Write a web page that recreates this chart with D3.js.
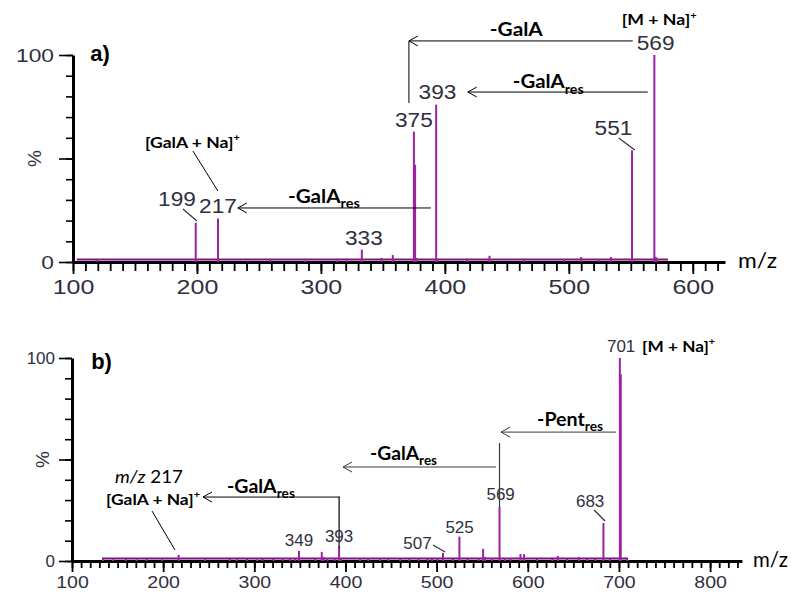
<!DOCTYPE html>
<html>
<head>
<meta charset="utf-8">
<script src="https://cdn.jsdelivr.net/npm/d3@7"></script>
<style>
  body { margin: 0; background: #fff; }
  svg { display: block; }
</style>
</head>
<body>
<svg id="chart" width="791" height="592"></svg>
<script>
// ---------------- spectrum a) : precursor [M + Na]+ m/z 569 ----------------
const mzA  = [119, 199, 217, 241, 259, 287, 313, 321, 333, 349, 358, 375, 376, 377, 393, 394,
              418, 436, 464, 496, 510, 524, 534, 551, 569, 570, 571];
const intA = [1, 19, 21, 0.7, 1.5, 0.7, 0.8, 0.8, 6, 2, 3.4, 63, 47, 2, 76, 1.5,
              1, 3, 1, 1.5, 2.4, 1.5, 2.4, 54, 100, 2.5, 2];
const floorA = [103, 580];                 // m/z span of the noise floor
const labeledA = [199, 217, 333, 375, 393, 551, 569];
const ticksA = [100, 200, 300, 400, 500, 600];

// ---------------- spectrum b) : precursor [M + Na]+ m/z 701 ----------------
const mzB  = [134, 145, 159, 171, 182, 199, 217, 246, 273, 281, 292, 303, 309, 321,
              331, 339, 345, 349, 367, 374, 376, 380, 388, 393, 395, 416, 425, 438,
              447, 460, 470, 480, 490, 495, 501, 507, 518, 525, 534, 546, 551, 553,
              561, 569, 575, 581, 592, 596, 610, 627, 633, 643, 656, 665, 674, 683,
              690, 701, 702, 709];
const intB = [1, 0.8, 1, 0.8, 1, 0.8, 3, 0.8, 1, 0.8, 1, 0.8, 1, 1,
              1.5, 1, 1.2, 5, 1.2, 4.5, 2, 1.5, 1.5, 7, 1.5, 1.5, 1.5, 1.2,
              1, 1, 1, 1.2, 1.2, 1, 1, 4, 1, 12, 1, 1.2, 6, 2,
              1.5, 26.6, 1.5, 1.5, 3.4, 3.4, 1, 1, 2.5, 1, 2, 1, 1, 18.7,
              1, 100, 92, 1];
const floorB = [133, 710];
const labeledB = [349, 393, 507, 525, 569, 683, 701];
const ticksB = [100, 200, 300, 400, 500, 600, 700, 800];
const yTicks = [0, 50, 100];
const yTickLabels = ["0", "", "100"];      // the 50 % position carries the "%" title

// ---------------- styles ----------------
const NUM  = "'Liberation Sans', Arial, sans-serif";
const ANNO = "Lato, 'Open Sans', sans-serif";
const INK  = "#2f2f40";
const PEAK = "#9c22a2";
const FLOOR = "#7e1483";

const svg = d3.select("#chart");

// text made of plain / subscript / superscript / italic runs, optionally fitted to a width
function rich(g, parts, o) {
  const t = g.append("text")
    .attr("font-family", o.family || ANNO)
    .attr("font-size", o.size)
    .attr("font-weight", o.weight || "normal")
    .attr("fill", o.fill || "#000")
    .attr("text-anchor", o.anchor || "start");
  let shift = 0;
  parts.forEach(p => {
    const s = t.append("tspan").text(p.t);
    let target = 0;
    if (p.sub) { s.attr("font-size", o.size * 0.7); target = o.size * 0.3; }
    if (p.sup) { s.attr("font-size", o.size * 0.62); target = -o.size * 0.42; }
    if (p.it) s.attr("font-style", "italic");
    if (target !== shift) { s.attr("dy", target - shift); shift = target; }
  });
  let sx = o.sx || 1;
  if (o.width) sx = o.width / t.node().getComputedTextLength();
  t.attr("transform", `translate(${o.x},${o.y}) scale(${sx},1)`);
  return t;
}

function line(g, x1, y1, x2, y2, color, w) {
  g.append("line").attr("x1", x1).attr("y1", y1).attr("x2", x2).attr("y2", y2)
    .attr("stroke", color || "#000").attr("stroke-width", w || 1);
}

// horizontal arrow with an open head pointing to the lower m/z
function arrow(g, x1, x2, y, color) {
  line(g, x1, y, x2, y, color);
  g.append("path")
    .attr("d", `M${x2 + 9},${y - 5} L${x2},${y} L${x2 + 9},${y + 5}`)
    .attr("fill", "none").attr("stroke", color || "#000").attr("stroke-width", 1);
}

function panel(o) {
  const g = svg.append("g");
  const x = d3.scaleLinear().domain(o.xDomain).range(o.xRange);
  const y = d3.scaleLinear().domain([0, 100]).range(o.yRange);
  const x0 = x(o.xDomain[0]);

  // x axis: minor ticks every 10, labelled majors every 100
  const minor = d3.range(o.xDomain[0], o.xDomain[1], 10);
  const gxMinor = g.append("g").attr("transform", `translate(0,${y(0)})`)
    .call(d3.axisBottom(x).tickValues(minor).tickSize(o.minorX).tickFormat("").tickSizeOuter(0));
  gxMinor.select(".domain").attr("stroke-width", 3).attr("stroke", "#000");
  gxMinor.selectAll(".tick line").attr("stroke-width", 1.8).attr("stroke", "#000");

  const gx = g.append("g").attr("transform", `translate(0,${y(0)})`)
    .call(d3.axisBottom(x).tickValues(o.xTicks).tickSize(o.majorX).tickPadding(o.xPad).tickSizeOuter(0));
  gx.select(".domain").remove();
  gx.selectAll(".tick line").attr("stroke-width", 1.8).attr("stroke", "#000");
  gx.selectAll(".tick text")
    .attr("font-family", NUM).attr("font-size", o.xFont).attr("fill", INK)
    .attr("dy", o.xDy)
    .attr("transform", `scale(${o.xSx},1)`);

  // y axis: minor ticks every 10 %, labelled 0 and 100
  const gyMinor = g.append("g").attr("transform", `translate(${x0},0)`)
    .call(d3.axisLeft(y).tickValues(d3.range(0, 101, 10)).tickSize(7).tickFormat("").tickSizeOuter(0));
  gyMinor.select(".domain").attr("stroke-width", 3).attr("stroke", "#000");
  gyMinor.selectAll(".tick line").attr("stroke-width", 1.6).attr("stroke", "#000");

  const gy = g.append("g").attr("transform", `translate(${x0},0)`)
    .call(d3.axisLeft(y).tickValues(yTicks).tickSize(o.majorY).tickPadding(o.yPad).tickSizeOuter(0)
      .tickFormat((d, i) => yTickLabels[i]));
  gy.select(".domain").remove();
  gy.selectAll(".tick line").attr("stroke-width", 1.6).attr("stroke", "#000");
  gy.selectAll(".tick text")
    .attr("font-family", NUM).attr("font-size", o.yFont).attr("fill", INK)
    .attr("x", -(o.majorY + o.yPad) / o.ySx)
    .attr("transform", `scale(${o.ySx},1)`);

  g.append("text")
    .attr("transform", `translate(${o.pctX},${y(50)}) rotate(-90)`)
    .attr("text-anchor", "middle").attr("dy", "0.35em")
    .attr("font-family", NUM).attr("font-size", 19).attr("fill", INK)
    .text("%");

  rich(g, [{ t: "m/z" }], { x: o.mzLabelX, y: y(0) + 6, size: o.mzSize, family: ANNO, width: o.mzWidth });
  rich(g, [{ t: o.tag }], { x: x(o.tagAt[0]), y: y(o.tagAt[1]), size: 22, weight: "bold", family: NUM });

  // spectrum: noise floor then centroid sticks
  line(g, x(o.floor[0]), y(0) - 2.5, x(o.floor[1]), y(0) - 2.5, FLOOR, 2.2);
  g.append("g").selectAll("line")
    .data(d3.zip(o.mz, o.int))
    .join("line")
    .attr("x1", d => x(d[0])).attr("x2", d => x(d[0]))
    .attr("y1", y(0)).attr("y2", d => y(d[1]))
    .attr("stroke", PEAK).attr("stroke-width", 2);

  return { g, x, y };
}

// ---------------- panel a ----------------
const A = panel({
  xDomain: [100, 626], xRange: [73, 725], yRange: [262, 55],
  xTicks: ticksA, minorX: 9, majorX: 12, xPad: 6, xFont: 20, xSx: 1.25, xDy: "0.71em",
  majorY: 14, yPad: 5, yFont: 19, ySx: 1.2, pctX: 34,
  mzLabelX: 738, mzSize: 22, mzWidth: 39,
  tag: "a)", tagAt: [114, 97],
  floor: floorA, mz: mzA, int: intA
});

(function () {
  const { g, x, y } = A;
  // label centre (m/z) and baseline (%) for each labelled peak
  const place = { 199: [183.9, 27], 217: [217, 23.7], 333: [334.7, 8.2], 375: [375, 65.2],
                  393: [394, 78.7], 551: [536, 61.4], 569: [570, 102.4] };
  labeledA.forEach(m => {
    const [cx, p] = place[m];
    rich(g, [{ t: String(m) }], { x: x(cx), y: y(p), size: 21, family: NUM, fill: INK, anchor: "middle", sx: 1.08 });
  });
  line(g, x(188.7), y(25.6), x(200), y(19.8), "#333", 1.2);
  line(g, x(540.3), y(59.9), x(553.2), y(54.1), "#333", 1.2);

  // neutral losses
  arrow(g, x(551.6), x(371), y(106.8));
  line(g, x(371), y(106.8), x(371), y(76.8));
  rich(g, [{ t: "-GalA" }], { x: x(436.3), y: y(109.2), size: 18, weight: "bold", width: 53 });

  arrow(g, x(563.7), x(418.5), y(82.1));
  rich(g, [{ t: "-GalA" }, { t: "res", sub: true }], { x: x(454.8), y: y(84), size: 18, weight: "bold", width: 71 });

  arrow(g, x(388.7), x(233), y(26.1));
  rich(g, [{ t: "-GalA" }, { t: "res", sub: true }], { x: x(273.4), y: y(28.5), size: 18, weight: "bold", width: 72 });

  rich(g, [{ t: "[GalA + Na]" }, { t: "+", sup: true }], { x: x(158), y: y(55), size: 16, weight: "bold", width: 95 });
  line(g, x(196.8), y(53.6), x(216.9), y(34.3), "#000", 1);
  rich(g, [{ t: "[M + Na]" }, { t: "+", sup: true }], { x: x(542.7), y: y(114.3), size: 16, weight: "bold", width: 75 });
})();

// ---------------- panel b ----------------
const B = panel({
  xDomain: [100, 835], xRange: [72, 742], yRange: [561, 358],
  xTicks: ticksB, minorX: 7, majorX: 11, xPad: 5, xFont: 17, xSx: 1.15, xDy: "0.66em",
  majorY: 13, yPad: 4, yFont: 17, ySx: 1.0, pctX: 42,
  mzLabelX: 753, mzSize: 21, mzWidth: 35,
  tag: "b)", tagAt: [121, 94.5],
  floor: floorB, mz: mzB, int: intB
});

(function () {
  const { g, x, y } = B;
  const place = { 349: [349, 7.4], 393: [393, 9.4], 507: [479, 5.9], 525: [525.2, 13.8],
                  569: [570.2, 30], 683: [668.4, 26.6], 701: [702.4, 103] };
  // losses drawn first so the numbers sit on top
  arrow(g, x(696.9), x(570.7), y(63.5), "#3a3a3a");
  line(g, x(569), y(58.1), x(569), y(26.6), "#3a3a3a", 1.2);
  rich(g, [{ t: "-Pent" }, { t: "res", sub: true }], { x: x(610.2), y: y(66.5), size: 18, weight: "bold", width: 66 });

  arrow(g, x(565.2), x(397.3), y(46.3), "#3a3a3a");
  rich(g, [{ t: "-GalA" }, { t: "res", sub: true }], { x: x(427), y: y(49.8), size: 18, weight: "bold", width: 67 });

  arrow(g, x(394), x(243.7), y(31.5));
  line(g, x(393), y(31.5), x(393), y(6.4), "#000", 1.2);
  rich(g, [{ t: "-GalA" }, { t: "res", sub: true }], { x: x(270), y: y(33.5), size: 18, weight: "bold", width: 68 });

  rich(g, [{ t: "m/z", it: true }, { t: " 217" }], { x: x(147.2), y: y(38.4), size: 18, width: 68 });
  rich(g, [{ t: "[GalA + Na]" }, { t: "+", sup: true }], { x: x(137.3), y: y(27.6), size: 16, weight: "bold", width: 94 });
  line(g, x(187.8), y(24.6), x(213), y(5.4), "#000", 1);

  labeledB.forEach(m => {
    const [cx, p] = place[m];
    rich(g, [{ t: String(m) }], { x: x(cx), y: y(p), size: 17, family: NUM, fill: INK, anchor: "middle" });
  });
  line(g, x(496), y(7.9), x(509.3), y(4.4), "#333", 1.2);
  line(g, x(672.7), y(25.1), x(684.8), y(19.7), "#333", 1.2);

  rich(g, [{ t: "[M + Na]" }, { t: "+", sup: true }], { x: x(725.4), y: y(103), size: 16, weight: "bold", width: 73 });
})();
</script>
</body>
</html>
